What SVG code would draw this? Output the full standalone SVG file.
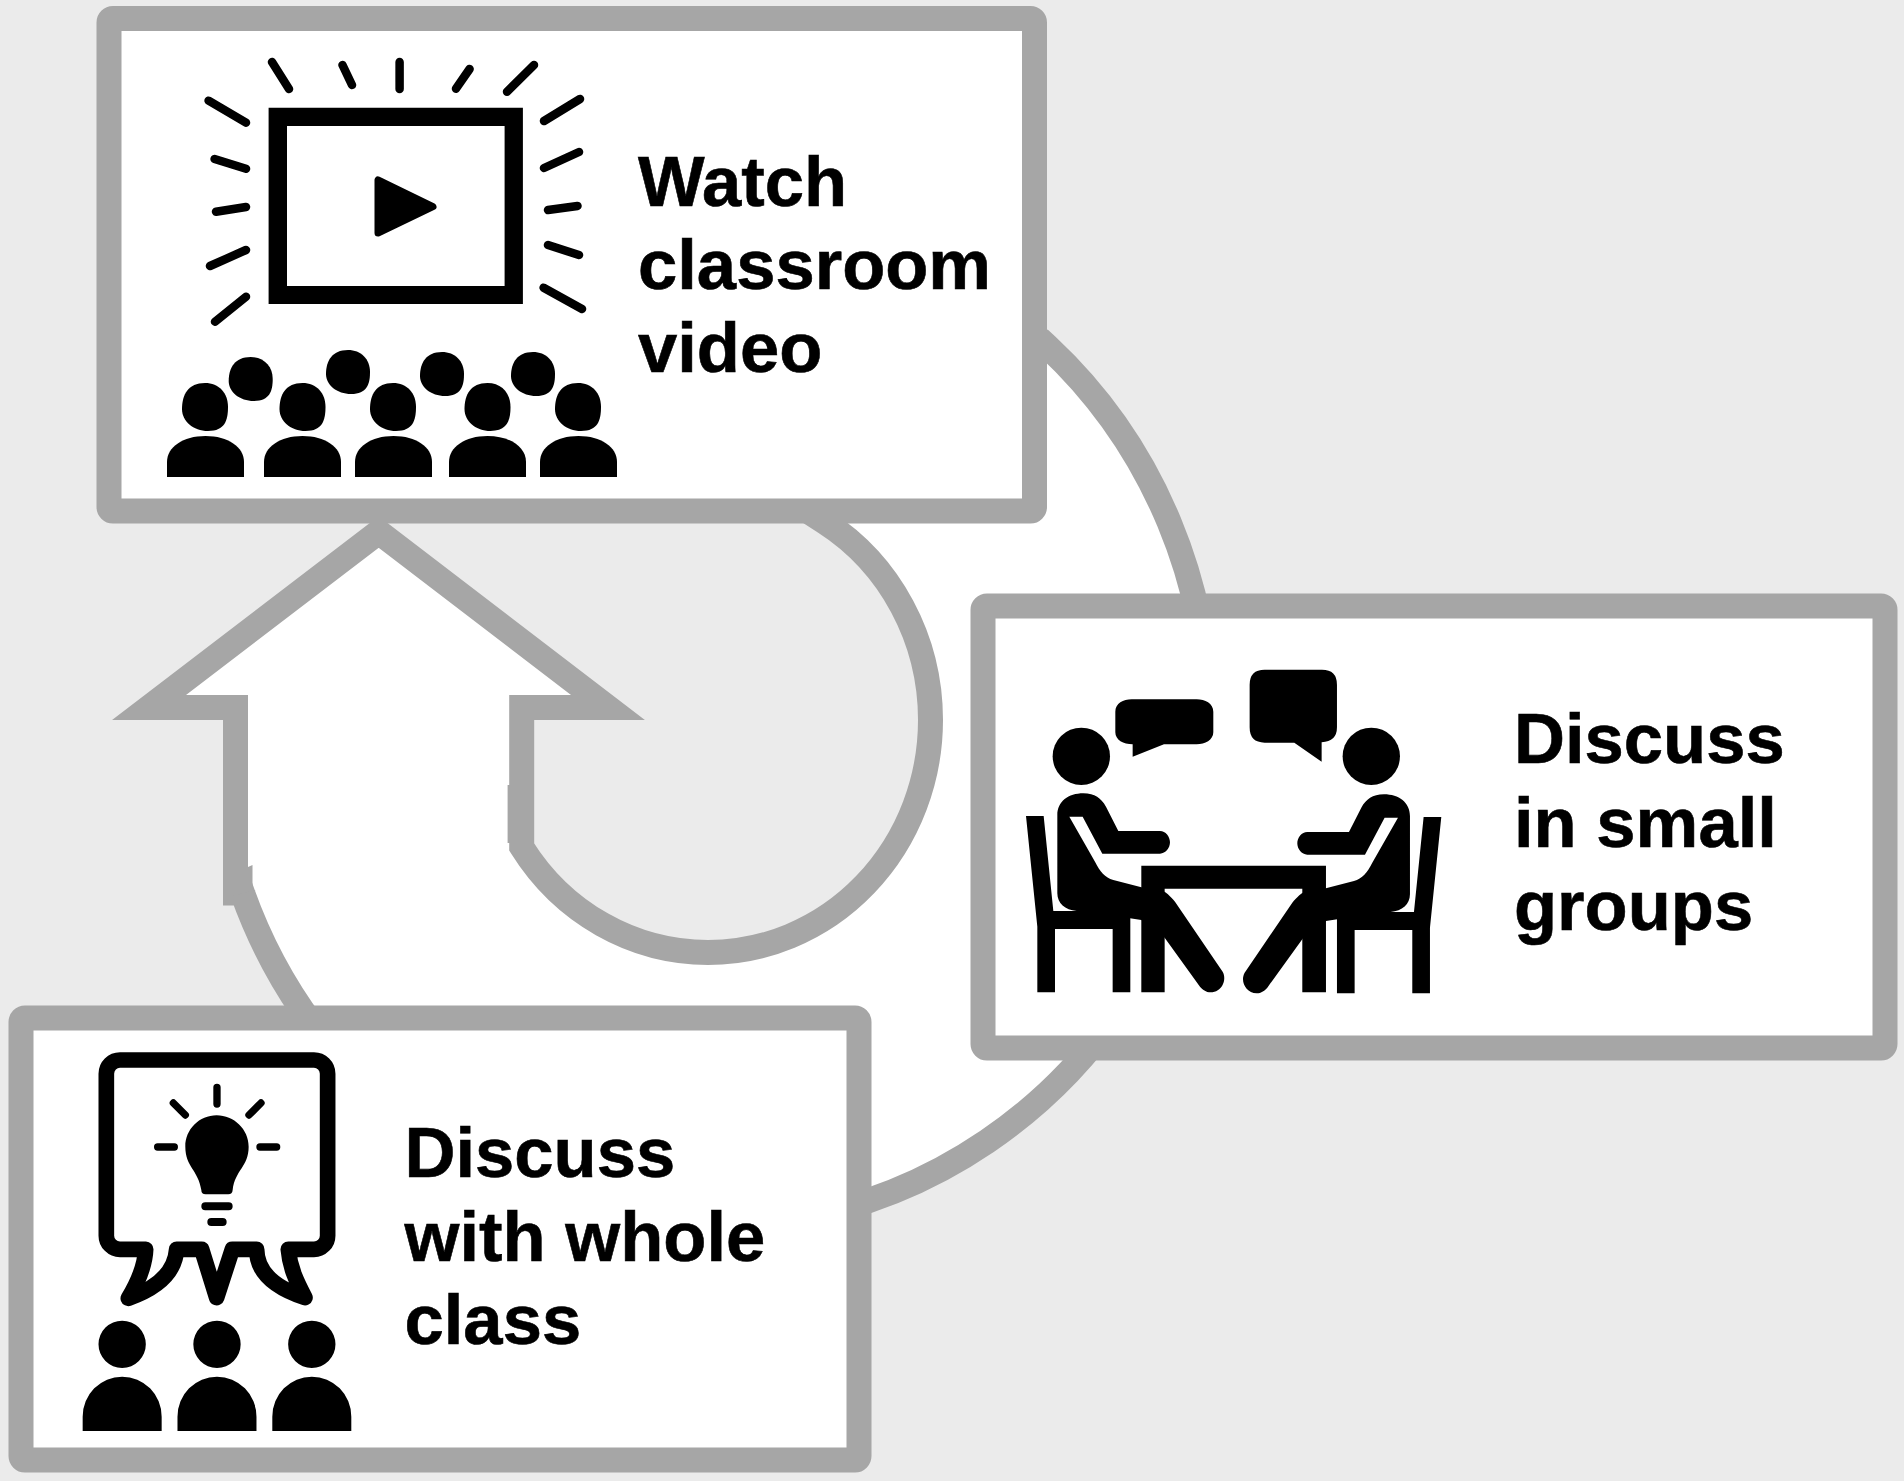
<svg xmlns="http://www.w3.org/2000/svg" width="1904" height="1481" viewBox="0 0 1904 1481">
<style>
.box{fill:#fff;stroke:#a6a6a6;stroke-width:25;stroke-linejoin:round}
.lbl{font-family:"Liberation Sans",Arial,sans-serif;font-weight:700;font-size:70.600px;fill:#000;stroke:#000;stroke-width:0.600}
.ray{stroke:#000;stroke-width:8.500;stroke-linecap:round;fill:none}
</style>
<defs>
<path id="head" d="M0,-24C14,-24 23,-14 23,0C23,13 20,24 3,24C-12,24 -23,14 -23,2C-23,-12 -17,-24 0,-24Z"/>
<path id="backhead" d="M0,-22C13,-22 22,-13 22,0C22,12 19,22 3,22C-11,22 -22,13 -22,2C-22,-11 -16,-22 0,-22Z"/>
<path id="body" d="M0,41V26C0,11 16,0 38.500,0S77,11 77,26V41Z"/>
<path id="wperson" d="M-118.500,260V217A118.500,120 0 0 1 118.500,217V260ZM-71,0A71,71 0 1 1 71,0A71,71 0 1 1 -71,0Z"/>
<g id="sitter">
<path d="M78,528H131L160,813H391V1057H338V867H165V1057H112V860Z"/>
<path d="M172,525C172,485 205,460 250,460C285,460 303,475 318,500L355,573H480C497,573 510,590 510,607C510,624 497,641 480,641H307L248,530H208L285,665C300,695 315,712 340,720L430,743H470C500,755 512,770 525,785L668,995C682,1020 665,1057 632,1057C618,1057 607,1048 600,1040L494,893L424,840L390,835L230,813C195,810 172,790 172,760Z"/>
</g>
</defs>
<rect width="1904" height="1481" fill="#ebebeb"/>
<g id="connectors">
<path d="M378.700,532L149,707.500H235.500V893H242.500A498,507 0 1 0 1047,346L824.600,522A222.500,232.500 0 0 1 930.500,720A222.500,232.500 0 0 1 708,952.500A222.500,232.500 0 0 1 521.700,847V707.500H608Z" fill="#fff" stroke="#a6a6a6" stroke-width="25" stroke-linejoin="miter" stroke-miterlimit="10"/>
<path d="M223,880V896H231L256,890H252.500V865L248,867V880ZM507.600,785H511V843H507.600Z" fill="#a6a6a6"/>
</g>
<g id="node-watch">
<rect class="box" x="109" y="18.500" width="925.500" height="492.500" rx="4"/>
<path fill-rule="evenodd" d="M268.600,107.700H522.900V304H268.600ZM287,126V286H504.600V126Z"/>
<path d="M378,180V233L433,206.700Z" stroke="#000" stroke-width="7" stroke-linejoin="round"/>
<path class="ray" d="M272,62L289,89M342.500,65L352,85M399.600,62V89M469.600,69L456,88.700M534,65L507,91.700M580,99L544,121M579,152L544,168M577.500,206L548,210M548,245L579,255M543.600,287.700L582,309M208.600,100.700L246,122.700M214.600,159L246,168.700M216,211.700L246,207M210,266L246,250M215,321.700L246,296.700"/>
<use href="#backhead" x="250.700" y="379"/><use href="#backhead" x="348" y="372"/><use href="#backhead" x="442" y="374"/><use href="#backhead" x="533" y="374"/>
<use href="#head" x="205" y="407"/><use href="#head" x="302.500" y="407"/><use href="#head" x="393" y="407"/><use href="#head" x="487.500" y="407"/><use href="#head" x="578" y="407"/>
<use href="#body" x="167" y="436"/><use href="#body" x="264" y="436"/><use href="#body" x="355" y="436"/><use href="#body" x="449" y="436"/><use href="#body" x="540" y="436"/>
<text class="lbl"><tspan x="638" y="206">Watch</tspan><tspan x="638" y="289">classroom</tspan><tspan x="638" y="372">video</tspan></text>
</g>
<g id="node-small">
<rect class="box" x="983" y="606" width="902" height="442" rx="4"/>
<g transform="translate(1000,640) scale(0.3333)">
<circle cx="244" cy="349" r="86"/><circle cx="1114" cy="349" r="86"/>
<path d="M346,215C346,190 370,178 395,178H590C615,178 640,190 640,215V277C640,300 615,313 590,313H492L398,350V313C370,313 346,300 346,277Z"/>
<path d="M794,89H966Q1011,89 1011,134V262Q1011,305 965,307V365L883,308H794Q749,308 749,262V134Q749,89 794,89Z"/>
<path d="M424,677H978V1057H907V746H494V1057H424Z"/>
<use href="#sitter"/>
<use href="#sitter" transform="translate(1402,3) scale(-1,1)"/>
</g>
<text class="lbl"><tspan x="1514" y="763">Discuss</tspan><tspan x="1514" y="847">in small</tspan><tspan x="1514" y="930">groups</tspan></text>
</g>
<g id="node-whole">
<rect class="box" x="21" y="1018" width="838" height="442" rx="4"/>
<g transform="translate(60,1030) scale(0.3333)">
<path d="M180,90H762A41,41 0 0 1 803,131V617A41,41 0 0 1 762,658H685C690,715 710,755 735,803C650,775 590,730 590,658H517L470,803L425,658H350C345,730 290,775 205,805C235,755 255,710 257,658H180A41,41 0 0 1 139,617V131A41,41 0 0 1 180,90Z" fill="none" stroke="#000" stroke-width="47" stroke-linejoin="round"/>
<path d="M470,256C522,256 566,298 566,350C566,410 525,420 518,480Q517,493 505,493H437Q424,493 424,480C415,420 376,410 376,350C376,298 418,256 470,256Z"/>
<path d="M471,172V222M340,219L376,255M603,219L567,255M293,351H343M600,351H650" stroke="#000" stroke-width="22" stroke-linecap="round" fill="none"/>
<path d="M436,529H506M454,576H488" stroke="#000" stroke-width="24" stroke-linecap="round" fill="none"/>
<use href="#wperson" x="186.500" y="943"/><use href="#wperson" x="471" y="943"/><use href="#wperson" x="755.500" y="943"/>
</g>
<text class="lbl"><tspan x="404.500" y="1177">Discuss</tspan><tspan x="404.500" y="1261">with whole</tspan><tspan x="404.500" y="1344">class</tspan></text>
</g>
</svg>
